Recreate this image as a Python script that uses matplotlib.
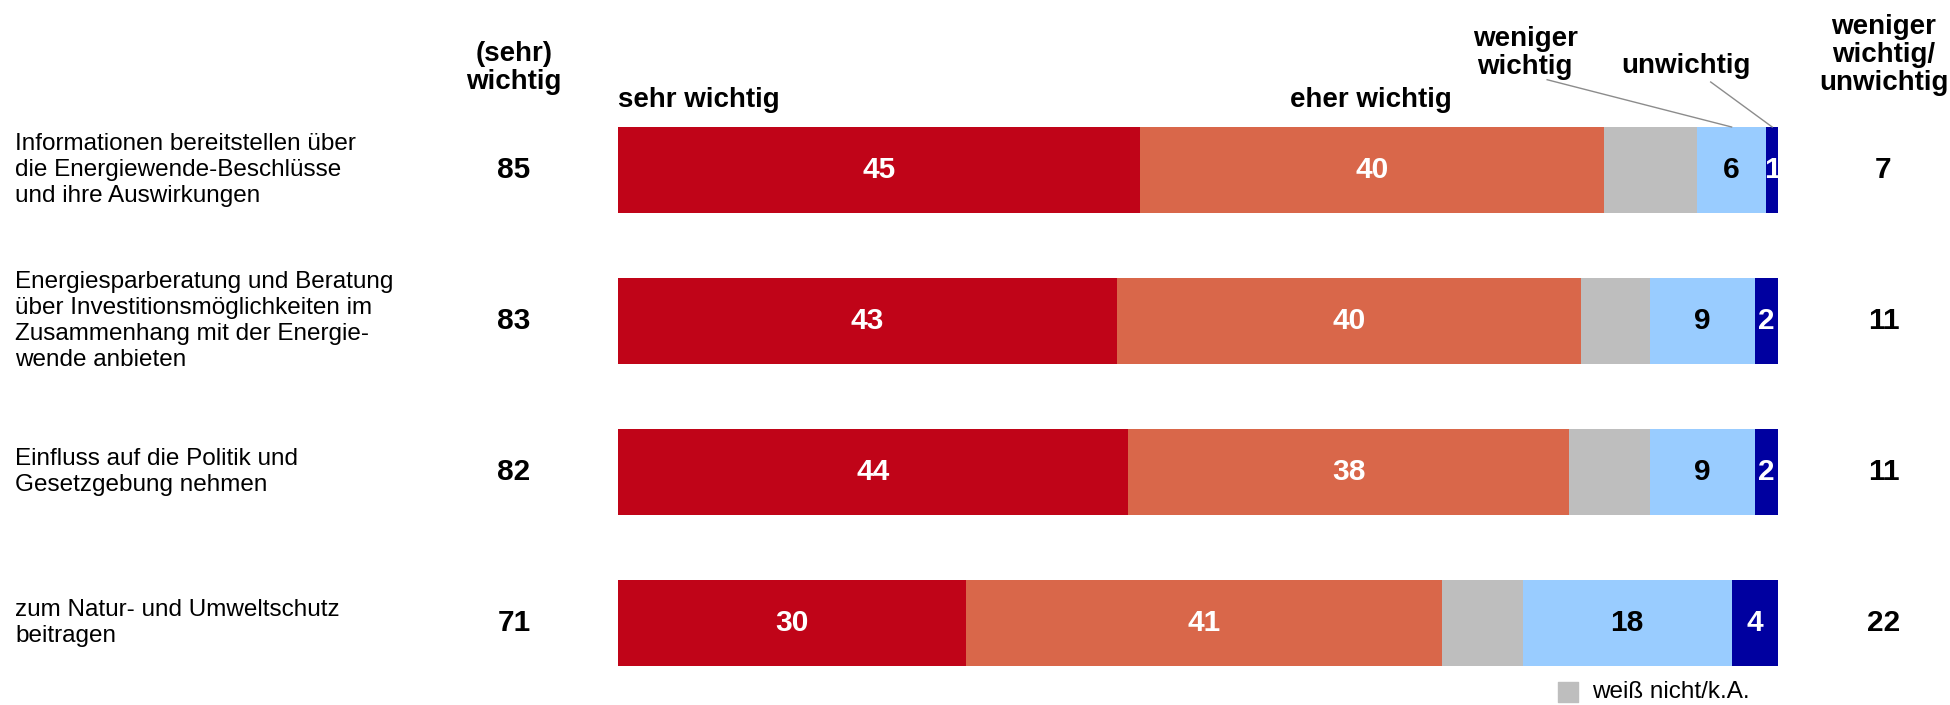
import matplotlib.pyplot as plt

plt.rcParams['font.family'] = ['Liberation Sans', 'DejaVu Sans']

categories = ['Informationen bereitstellen über\ndie Energiewende-Beschlüsse\nund ihre Auswirkungen',
              'Energiesparberatung und Beratung\nüber Investitionsmöglichkeiten im\nZusammenhang mit der Energie-\nwende anbieten',
              'Einfluss auf die Politik und\nGesetzgebung nehmen',
              'zum Natur- und Umweltschutz\nbeitragen']
sehr_wichtig = [45, 43, 44, 30]
eher_wichtig = [40, 40, 38, 41]
weiss_nicht = [8, 6, 7, 7]
weniger_wichtig = [6, 9, 9, 18]
unwichtig = [1, 2, 2, 4]
summe_wichtig = [85, 83, 82, 71]
summe_unwichtig = [7, 11, 11, 22]

series = [sehr_wichtig, eher_wichtig, weiss_nicht, weniger_wichtig, unwichtig]
colors = ['#C00418', '#D9674A', '#BEBEBE', '#99CCFF', '#0000A0']
label_colors = ['white', 'white', None, 'black', 'white']

fig = plt.figure(figsize=(19.5, 7.05), dpi=100)
ax = fig.add_axes([0, 0, 1, 1])
ax.set_xlim(-53.28, 114.83)
ax.set_ylim(3.543, -1.126)
ax.axis('off')

y = range(len(categories))
left = [0] * len(categories)
for vals, col, lc in zip(series, colors, label_colors):
    bars = ax.barh(y, vals, left=left, height=0.57, color=col)
    if lc:
        ax.bar_label(bars, labels=[str(v) for v in vals], label_type='center',
                     color=lc, fontsize=21.5, fontweight='bold')
    left = [l + v for l, v in zip(left, vals)]

for i in y:
    ax.text(-51.98, i, categories[i], ha='left', va='center', fontsize=17.5, linespacing=1.25)
    ax.text(-8.97, i, str(summe_wichtig[i]), ha='center', va='center', fontsize=21.5, fontweight='bold')
    ax.text(109.1, i, str(summe_unwichtig[i]), ha='center', va='center', fontsize=21.5, fontweight='bold')

# headers
ax.text(-8.97, -0.675, '(sehr)\nwichtig', ha='center', va='center', fontsize=20, fontweight='bold', linespacing=1.1)
ax.text(109.1, -0.76, 'weniger\nwichtig/\nunwichtig', ha='center', va='center', fontsize=20, fontweight='bold', linespacing=1.1)
ax.text(0, -0.467, 'sehr wichtig', ha='left', va='center', fontsize=20, fontweight='bold')
ax.text(71.9, -0.467, 'eher wichtig', ha='right', va='center', fontsize=20, fontweight='bold')

# leader labels for small segments of first row
x_wen = sehr_wichtig[0] + eher_wichtig[0] + weiss_nicht[0] + weniger_wichtig[0] / 2
x_unw = 100 - unwichtig[0] / 2
ax.text(78.2, -0.775, 'weniger\nwichtig', ha='center', va='center', fontsize=20, fontweight='bold', linespacing=1.1)
ax.text(92.1, -0.69, 'unwichtig', ha='center', va='center', fontsize=20, fontweight='bold')
ax.plot([80.1, x_wen], [-0.598, -0.285], color='#8C8C8C', lw=1)
ax.plot([94.2, x_unw], [-0.583, -0.285], color='#8C8C8C', lw=1)

# legend
ax.scatter([81.9], [3.46], marker='s', s=200, color=colors[2])
ax.text(84.0, 3.46, 'weiß nicht/k.A.', ha='left', va='center', fontsize=17.5)

fig.savefig('out.png', dpi=100)
